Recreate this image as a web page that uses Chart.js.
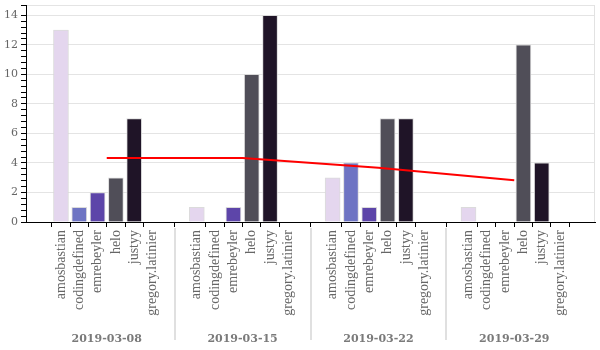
<!DOCTYPE html>
<html>
<head>
<meta charset="utf-8">
<script src="https://cdn.jsdelivr.net/npm/chart.js@4/dist/chart.umd.min.js"></script>
<style>
  html, body { margin: 0; padding: 0; background: #fff; }
  #wrap { width: 600px; height: 350px; }
</style>
</head>
<body>
<div id="wrap"><canvas id="chart"></canvas></div>
<script>
// data
const weeks = ["2019-03-08", "2019-03-15", "2019-03-22", "2019-03-29"];
const users = ["amosbastian", "codingdefined", "emrebeyler", "helo", "justyy", "gregory.latinier"];
const amosbastian = [13, 1, 3, 1];
const codingdefined = [1, 0, 4, 0];
const emrebeyler = [2, 1, 1, 0];
const helo = [3, 10, 7, 12];
const justyy = [7, 14, 7, 4];
const gregoryLatinier = [0, 0, 0, 0];
const weeklyAverage = [4.33, 4.33, 3.67, 2.83];

const userColors = ["#e4d6ee", "#6e74c3", "#5d45a9", "#504e58", "#1f1427", "#b0b0b0"];
const GROUP = 7.42; // slots per week on the x scale (6 bars + gap)
const yMax = 14.7;
const labelFont = "'DejaVu Serif', serif";
const tickFont = "'Liberation Serif', serif";

const perUser = [amosbastian, codingdefined, emrebeyler, helo, justyy, gregoryLatinier];
const slot = (w, u) => w * GROUP + u;
const tickPositions = [];
weeks.forEach((w, wi) => users.forEach((u, ui) => tickPositions.push(slot(wi, ui))));

const datasets = users.map((name, ui) => ({
  type: "bar",
  label: name,
  data: perUser[ui].map((v, wi) => ({ x: slot(wi, ui), y: v })),
  backgroundColor: userColors[ui],
  borderColor: "rgba(215,215,215,0.9)",
  borderWidth: 1,
  barThickness: 15,
  grouped: false,
  order: 1,
}));
datasets.push({
  type: "line",
  label: "average",
  data: weeklyAverage.map((v, wi) => ({ x: slot(wi, 2.5), y: v })),
  borderColor: "#ff0000",
  borderWidth: 2,
  pointRadius: 0,
  fill: false,
  order: 0,
});

// week labels, separators and the grey frame on the right
const weekDecor = {
  id: "weekDecor",
  afterDraw(chart) {
    const { ctx, chartArea } = chart;
    const x = chart.scales.x;
    ctx.save();
    ctx.strokeStyle = "#e2e2e2";
    ctx.lineWidth = 1;
    ctx.beginPath();
    ctx.moveTo(chartArea.right - 0.5, chartArea.top);
    ctx.lineTo(chartArea.right - 0.5, chartArea.bottom);
    ctx.stroke();

    ctx.strokeStyle = "#d6d6d6";
    ctx.lineWidth = 1.5;
    for (let wi = 1; wi < weeks.length; wi++) {
      const px = Math.round(x.getPixelForValue(slot(wi, -1) - (GROUP - 6) / 2 + 0.5));
      ctx.beginPath();
      ctx.moveTo(px, chartArea.bottom + 6);
      ctx.lineTo(px, 340);
      ctx.stroke();
    }
    ctx.fillStyle = "#7a7a7a";
    ctx.font = "bold 11px " + labelFont;
    ctx.textAlign = "center";
    ctx.textBaseline = "middle";
    weeks.forEach((w, wi) => {
      ctx.fillText(w, x.getPixelForValue(slot(wi, 2.5)), 339);
    });
    ctx.restore();
  },
};

const isMajor = (v) => Math.abs(v / 2 - Math.round(v / 2)) < 1e-6;

new Chart(document.getElementById("chart"), {
  data: { datasets },
  plugins: [weekDecor],
  options: {
    responsive: true,
    maintainAspectRatio: false,
    animation: false,
    layout: { padding: { top: 5, right: 5, left: 0, bottom: 0 } },
    plugins: {
      legend: { display: false },
      tooltip: { enabled: false },
    },
    scales: {
      x: {
        type: "linear",
        offset: false,
        min: -1.91,
        max: slot(3, 5) + 1.91,
        afterBuildTicks: (scale) => {
          scale.ticks = tickPositions.map((v) => ({ value: v }));
        },
        afterFit: (scale) => {
          scale.height = 128;
          scale.paddingLeft = 0;
          scale.paddingRight = 0;
        },
        ticks: {
          autoSkip: false,
          minRotation: 90,
          maxRotation: 90,
          padding: 3,
          color: "#666",
          font: { family: tickFont, size: 14 },
          callback: (value, index) => users[index % users.length],
        },
        grid: {
          drawOnChartArea: false,
          tickLength: 5,
          tickColor: "#000",
        },
        border: { color: "#000", width: 1 },
      },
      y: {
        min: 0,
        max: yMax,
        afterBuildTicks: (scale) => {
          const t = [];
          for (let k = 0; k <= 35; k++) t.push({ value: k * 0.4 });
          t.push({ value: yMax });
          scale.ticks = t;
        },
        afterFit: (scale) => {
          scale.width = 26;
          scale.paddingTop = 0;
          scale.paddingBottom = 0;
        },
        ticks: {
          autoSkip: false,
          padding: 3,
          color: "#666",
          font: { family: labelFont, size: 11 },
          callback: (value) => (isMajor(value) && value <= 14 ? String(Math.round(value)) : ""),
        },
        grid: {
          tickLength: 5,
          tickColor: "#000",
          color: (c) => {
            const v = c.tick ? c.tick.value : 0;
            return isMajor(v) || v === yMax ? "#e4e4e4" : "rgba(0,0,0,0)";
          },
        },
        border: { color: "#000", width: 1 },
      },
    },
  },
});
</script>
</body>
</html>
